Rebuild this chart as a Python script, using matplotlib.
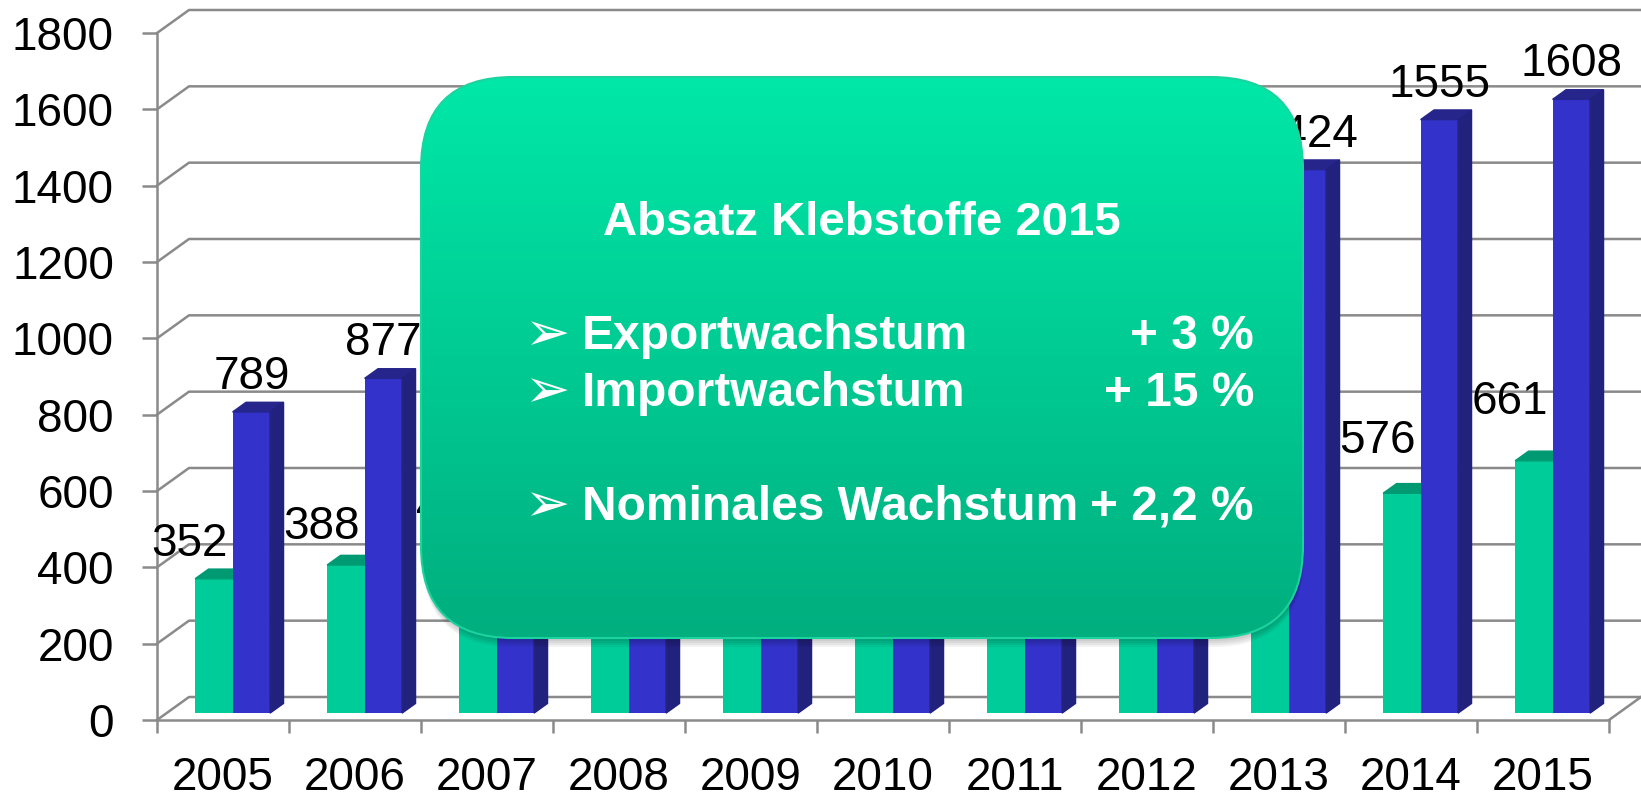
import numpy as np
import matplotlib.pyplot as plt
from matplotlib.patches import Polygon, FancyBboxPatch

plt.rcParams['font.family'] = ['Liberation Sans', 'DejaVu Sans']

# data (values hidden behind the text box are estimates)
years = ['2005', '2006', '2007', '2008', '2009', '2010', '2011', '2012', '2013', '2014', '2015']
import_vals = [352, 388, 430, 445, 380, 460, 500, 525, 545, 576, 661]
export_vals = [789, 877, 975, 1010, 870, 1070, 1230, 1330, 1424, 1555, 1608]
y_ticks = [0, 200, 400, 600, 800, 1000, 1200, 1400, 1600, 1800]

box_title = 'Absatz Klebstoffe 2015'
box_items = ['Exportwachstum', 'Importwachstum', 'Nominales Wachstum']
box_values = ['+ 3 %', '+ 15 %', '+ 2,2 %']

W, H = 1641, 798
fig = plt.figure(figsize=(W / 100, H / 100), dpi=100)

# plot area in pixels
x0, x1, y0, y1 = 157, 1641, 720, 10
px_x = 132.0
px_y = 687 / 1800
ax = fig.add_axes([x0 / W, (H - y0) / H, (x1 - x0) / W, (y0 - y1) / H])
ax.set_xlim(0, (x1 - x0) / px_x)
ax.set_ylim(0, (y0 - y1) / px_y)

n = len(years)
grey = '#8a8a8a'
wall_dx = 32 / px_x
wall_dy = 23 / px_y
fs = 33

# back wall, side wall and floor lines
for t in y_ticks:
    ax.plot([0, wall_dx, n + wall_dx], [t, t + wall_dy, t + wall_dy],
            color=grey, lw=1.8, zorder=1, clip_on=False)
ax.plot([n, n + wall_dx], [0, wall_dy], color=grey, lw=1.8, zorder=1, clip_on=False)

for s in ['top', 'right']:
    ax.spines[s].set_visible(False)
ax.spines['left'].set_bounds(0, 1800)
ax.spines['bottom'].set_bounds(0, n)
for s in ['left', 'bottom']:
    ax.spines[s].set_color(grey)
    ax.spines[s].set_linewidth(1.8)

ax.set_yticks(y_ticks)
ax.tick_params(axis='y', length=11, width=1.8, color=grey, labelsize=fs, pad=20)
ax.set_xticks(range(n + 1))
ax.set_xticklabels([])
ax.set_xticks(np.arange(n) + 0.5, minor=True)
ax.set_xticklabels(years, minor=True, va='baseline')
ax.tick_params(axis='x', which='major', length=9, width=1.8, color=grey)
ax.tick_params(axis='x', which='minor', length=0, labelsize=fs, pad=50.5)

# bars
bar_w = 37.5 / px_x
front, back = 0.3, 0.72
fx, fy = front * wall_dx, front * wall_dy
ddx, ddy = (back - front) * wall_dx, (back - front) * wall_dy
centers = np.arange(n) + 0.5 + fx

ax.bar(centers - bar_w, import_vals, width=bar_w, bottom=fy, align='edge',
       color='#00cc99', zorder=3)
ax.bar(centers, export_vals, width=bar_w, bottom=fy, align='edge',
       color='#3333cc', zorder=4)

for i in range(n):
    g, b = import_vals[i], export_vals[i]
    xl = centers[i] - bar_w
    ax.add_patch(Polygon([(xl, g + fy), (xl + bar_w, g + fy),
                          (xl + bar_w + ddx, g + fy + ddy), (xl + ddx, g + fy + ddy)],
                         color='#009a72', zorder=3))
    xl = centers[i]
    xr = xl + bar_w
    ax.add_patch(Polygon([(xl, b + fy), (xr, b + fy),
                          (xr + ddx, b + fy + ddy), (xl + ddx, b + fy + ddy)],
                         color='#25258c', zorder=4))
    ax.add_patch(Polygon([(xr, fy), (xr, b + fy), (xr + ddx, b + fy + ddy), (xr + ddx, fy + ddy)],
                         color='#21217e', zorder=4))
    ax.text(centers[i] + bar_w / 2, b + fy + 60, str(b), ha='center', va='baseline',
            fontsize=fs, zorder=5)
    ax.text(centers[i] - bar_w / 2 - 24 / px_x, g + fy + 0.2 * g - 10, str(g),
            ha='center', va='baseline', fontsize=fs, zorder=5)

# text box on top
ov = fig.add_axes([0, 0, 1, 1], zorder=10)
ov.patch.set_alpha(0)
ov.axis('off')
bx0, by0, bx1, by1, r = 421, 77, 1303, 638, 92
for off in [3, 5, 7, 9]:
    ov.add_patch(FancyBboxPatch((bx0 + 1, by0 + off), bx1 - bx0, by1 - by0,
                                boxstyle=f'round,pad=0,rounding_size={r}',
                                fc='black', ec='none', alpha=0.05, zorder=1))
box = FancyBboxPatch((bx0, by0), bx1 - bx0, by1 - by0,
                     boxstyle=f'round,pad=0,rounding_size={r}',
                     fc='none', ec='#1dd39d', lw=1.5, zorder=3)
ov.add_patch(box)
top_c = np.array([0, 232, 168]) / 255
bot_c = np.array([0, 174, 126]) / 255
t = np.linspace(0, 1, 256)[:, None, None]
grad = top_c * (1 - t) + bot_c * t
im = ov.imshow(grad, extent=[bx0, bx1, by1, by0], aspect='auto', zorder=2)
im.set_clip_path(box)
ov.set_xlim(0, W)
ov.set_ylim(H, 0)

ov.text(862, 235, box_title, ha='center', va='baseline', color='white',
        fontsize=34, fontweight='bold', zorder=4)
for name, val, yb in zip(box_items, box_values, [349, 406, 520]):
    ov.text(525, yb + 1, '\u27a2', ha='left', va='baseline', color='white',
            fontsize=39, family=['DejaVu Sans'], zorder=4)
    ov.text(582, yb, name, ha='left', va='baseline', color='white',
            fontsize=34.5, fontweight='bold', zorder=4)
    ov.text(1254, yb, val, ha='right', va='baseline', color='white',
            fontsize=34.5, fontweight='bold', zorder=4)

fig.savefig('out.png', dpi=100)
